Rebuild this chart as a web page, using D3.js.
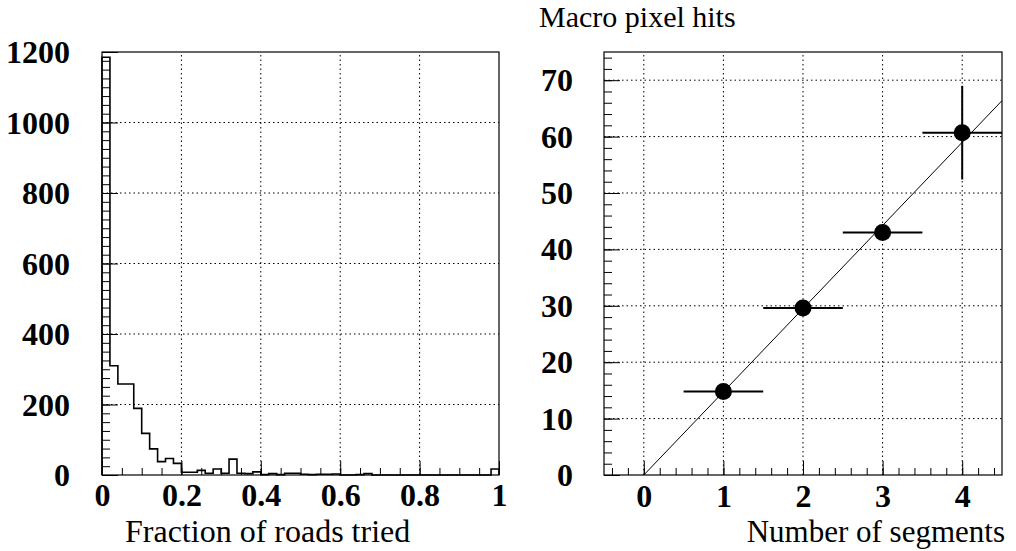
<!DOCTYPE html>
<html>
<head>
<meta charset="utf-8">
<script src="https://cdn.jsdelivr.net/npm/d3@7"></script>
<style>
  html, body { margin: 0; padding: 0; background: #fff; }
  svg { display: block; }
  text { font-family: "Liberation Serif", "Times New Roman", serif; fill: #000; }
  .tick-label text { font-weight: bold; font-size: 32px; }
  .grid line { stroke: #000; stroke-width: 1; stroke-dasharray: 1.5,3; }
</style>
</head>
<body>
<svg id="chart"></svg>
<script>
// Histogram: fraction of roads tried (50 bins from 0 to 1)
const binWidth = 0.02;
const counts = [1185, 310, 258, 258, 189, 118, 74, 38, 47, 33,
                8, 8, 13, 5, 17, 5, 45, 5, 4, 9,
                1, 4, 1, 5, 5, 2, 1, 2, 2, 3,
                0, 0, 1, 4, 0, 0, 0, 0, 0, 0,
                0, 0, 0, 0, 0, 0, 0, 0, 0, 17];
const histXTicks = [0, 0.2, 0.4, 0.6, 0.8, 1];
const histYTicks = [0, 200, 400, 600, 800, 1000, 1200];

// Macro pixel hits vs number of segments
const segments = [1, 2, 3, 4];
const hits = [14.8, 29.6, 43.0, 60.7];
const hitsErr = [0.8, 1.0, 1.3, 8.3];
const segErr = [0.5, 0.5, 0.5, 0.5];
const fitSlope = 14.75;
const segXTicks = [0, 1, 2, 3, 4];
const segYTicks = [0, 10, 20, 30, 40, 50, 60, 70];

const W = 1016, H = 551;
const svg = d3.select("#chart").attr("width", W).attr("height", H);
svg.append("rect").attr("width", W).attr("height", H).attr("fill", "#fff");

// draws frame, grid, ticks and labels for one panel
function drawFrame(g, x, y, opt) {
  const [x0, x1] = x.range(), [y0, y1] = y.range();

  // grid
  const grid = g.append("g").attr("class", "grid");
  grid.selectAll(".gx").data(opt.xGrid).enter().append("line")
    .attr("x1", d => x(d)).attr("x2", d => x(d)).attr("y1", y0).attr("y2", y1);
  grid.selectAll(".gy").data(opt.yGrid).enter().append("line")
    .attr("y1", d => y(d)).attr("y2", d => y(d)).attr("x1", x0).attr("x2", x1);

  // ticks (inside)
  g.append("g").attr("transform", `translate(${x0},0)`)
    .call(d3.axisLeft(y).tickValues(opt.yMinor).tickSize(-8).tickFormat(""))
    .call(a => a.select(".domain").remove());
  g.append("g").attr("transform", `translate(${x0},0)`)
    .call(d3.axisLeft(y).tickValues(opt.yTicks).tickSize(-16).tickFormat(""))
    .call(a => a.select(".domain").remove());
  g.append("g").attr("transform", `translate(0,${y0})`)
    .call(d3.axisBottom(x).tickValues(opt.xMinor).tickSize(-7).tickFormat(""))
    .call(a => a.select(".domain").remove());
  g.append("g").attr("transform", `translate(0,${y0})`)
    .call(d3.axisBottom(x).tickValues(opt.xTicks).tickSize(-14).tickFormat(""))
    .call(a => a.select(".domain").remove());
  g.selectAll(".tick line").attr("stroke", "#000").attr("stroke-width", 1);

  // labels
  const yl = g.append("g").attr("class", "tick-label").attr("transform", `translate(${x0},0)`)
    .call(d3.axisLeft(y).tickValues(opt.yTicks).tickSize(0).tickPadding(opt.yPad).tickFormat(d3.format("~g")));
  yl.select(".domain").remove();
  yl.selectAll("text").attr("dy", "0.33em").attr("font-family", null).attr("font-size", null);
  const xl = g.append("g").attr("class", "tick-label").attr("transform", `translate(0,${y0})`)
    .call(d3.axisBottom(x).tickValues(opt.xTicks).tickSize(0).tickPadding(opt.xPad).tickFormat(d3.format("~g")));
  xl.select(".domain").remove();
  xl.selectAll("text").attr("font-family", null).attr("font-size", null);

  // frame
  g.append("rect").attr("x", x0).attr("y", y1).attr("width", x1 - x0).attr("height", y0 - y1)
    .attr("fill", "none").attr("stroke", "#000").attr("stroke-width", 1.2);
}

// ---------- left panel: histogram ----------
const hx = d3.scaleLinear().domain([0, 1]).range([102, 499]);
const hy = d3.scaleLinear().domain([0, 1200]).range([475, 52]);
const left = svg.append("g");

drawFrame(left, hx, hy, {
  xTicks: histXTicks, yTicks: histYTicks,
  xMinor: d3.range(0, 1.0001, 0.05), yMinor: d3.range(0, 1201, 25),
  xGrid: histXTicks.slice(1, -1), yGrid: histYTicks.slice(1, -1),
  yPad: 32, xPad: 8
});

const steps = [[0, 0]].concat(counts.map((c, i) => [i * binWidth, c]), [[1, counts[counts.length - 1]], [1, 0]]);
left.append("path")
  .datum(steps)
  .attr("d", d3.line().x(d => hx(d[0])).y(d => hy(d[1])).curve(d3.curveStepAfter))
  .attr("fill", "none").attr("stroke", "#000").attr("stroke-width", 1.6);

left.append("text").attr("x", 125).attr("y", 542)
  .style("font-size", "32px").text("Fraction of roads tried");

// ---------- right panel: macro pixel hits ----------
const sx = d3.scaleLinear().domain([-0.5, 4.5]).range([604, 1002]);
const sy = d3.scaleLinear().domain([0, 75]).range([475, 52]);
const right = svg.append("g");

drawFrame(right, sx, sy, {
  xTicks: segXTicks, yTicks: segYTicks,
  xMinor: d3.range(-0.4, 4.5, 0.2), yMinor: d3.range(0, 75, 2),
  xGrid: segXTicks, yGrid: segYTicks.slice(1),
  yPad: 31, xPad: 9
});

right.append("defs").append("clipPath").attr("id", "clipR")
  .append("rect").attr("x", 604).attr("y", 52).attr("width", 398).attr("height", 423);
const plot = right.append("g").attr("clip-path", "url(#clipR)");

// fit line
plot.append("line")
  .attr("x1", sx(0)).attr("y1", sy(0))
  .attr("x2", sx(4.5)).attr("y2", sy(fitSlope * 4.5))
  .attr("stroke", "#000").attr("stroke-width", 1);

const pts = segments.map((s, i) => ({ x: s, y: hits[i], ex: segErr[i], ey: hitsErr[i] }));
plot.selectAll(".ex").data(pts).enter().append("line")
  .attr("x1", d => sx(d.x - d.ex)).attr("x2", d => sx(d.x + d.ex))
  .attr("y1", d => sy(d.y)).attr("y2", d => sy(d.y))
  .attr("stroke", "#000").attr("stroke-width", 2);
plot.selectAll(".ey").data(pts).enter().append("line")
  .attr("x1", d => sx(d.x)).attr("x2", d => sx(d.x))
  .attr("y1", d => sy(d.y - d.ey)).attr("y2", d => sy(d.y + d.ey))
  .attr("stroke", "#000").attr("stroke-width", 2);
plot.selectAll("circle").data(pts).enter().append("circle")
  .attr("cx", d => sx(d.x)).attr("cy", d => sy(d.y)).attr("r", 8.5)
  .attr("fill", "#000");

right.append("text").attr("x", 1005).attr("y", 542).attr("text-anchor", "end")
  .style("font-size", "31px").text("Number of segments");
right.append("text").attr("x", 539).attr("y", 27)
  .style("font-size", "30px").text("Macro pixel hits");
</script>
</body>
</html>
